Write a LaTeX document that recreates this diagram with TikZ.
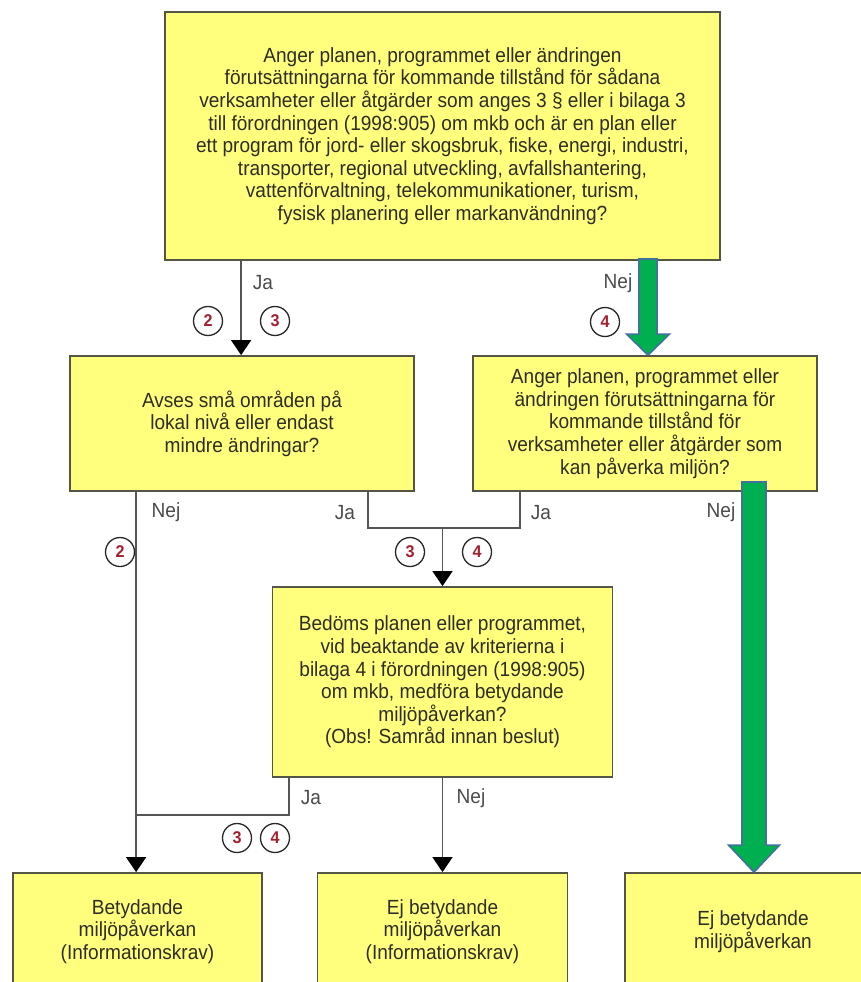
\documentclass[tikz,border=0pt]{standalone}
\usepackage{fontspec}
\setmainfont{Liberation Sans}[FakeStretch=0.93]
\newfontfamily\numfont{Liberation Sans}[FakeStretch=0.95]
\usetikzlibrary{arrows.meta,calc}
\definecolor{boxfill}{RGB}{255,255,125}
\definecolor{boxline}{RGB}{85,85,70}
\definecolor{conncol}{RGB}{85,85,85}
\definecolor{txtcol}{RGB}{45,45,35}
\definecolor{lblcol}{RGB}{75,75,75}
\definecolor{numcol}{RGB}{165,30,45}
\definecolor{gfill}{RGB}{0,176,80}
\definecolor{gline}{RGB}{65,113,156}
\begin{document}
\begin{tikzpicture}[x=1pt,y=-1pt,
  box/.style={draw=boxline, fill=boxfill, line width=1.8pt, align=center, inner sep=0pt,
    text=txtcol, font={\fontsize{20.5}{22.6}\selectfont}},
  conn/.style={draw=conncol, line width=1.5pt},
  arr/.style={conn, -{Triangle[width=20pt,length=15pt]}, arrows={[color=black]}},
  lbl/.style={text=lblcol, font={\fontsize{20.5}{22}\selectfont}, inner sep=0pt},
  numc/.style={circle, draw=black!85, line width=1.3pt, minimum size=29pt, inner sep=0pt,
    text=numcol, font={\numfont\bfseries\fontsize{17}{17}\selectfont}},
  garrow/.style={fill=gfill, draw=gline, line width=1.6pt, line join=miter}
]
\clip (0,0) rectangle (861,982);
\fill[white] (0,0) rectangle (861,982);

% boxes
\node[box, minimum width=555pt, minimum height=248pt] (top) at (442.5,136)
 {Anger planen, programmet eller ändringen\\
  förutsättningarna för kommande tillstånd för sådana\\
  verksamheter eller åtgärder som anges 3 § eller i bilaga 3\\
  till förordningen (1998:905) om mkb och är en plan eller\\
  ett program för jord- eller skogsbruk, fiske, energi, industri,\\
  transporter, regional utveckling, avfallshantering,\\
  vattenförvaltning, telekommunikationer, turism,\\
  fysisk planering eller markanvändning?};
\node[box, minimum width=344pt, minimum height=135pt] (b2) at (242,423.5)
 {Avses små områden på\\ lokal nivå eller endast\\ mindre ändringar?};
\node[box, minimum width=344pt, minimum height=135pt] (b3) at (645,423.5)
 {Anger planen, programmet eller\\ ändringen förutsättningarna för\\ kommande tillstånd för\\
  verksamheter eller åtgärder som\\ kan påverka miljön?};
\node[box, minimum width=340pt, minimum height=190pt] (b4) at (442.5,682)
 {Bedöms planen eller programmet,\\ vid beaktande av kriterierna i\\ bilaga 4 i förordningen (1998:905)\\
  om mkb, medföra betydande\\ miljöpåverkan?\\ (Obs! Samråd innan beslut)};
\node[box, minimum width=249pt, minimum height=117pt] (b5) at (137.5,931.5)
 {Betydande\\ miljöpåverkan\\ (Informationskrav)};
\node[box, minimum width=250pt, minimum height=117pt] (b6) at (442.5,931.5)
 {Ej betydande\\ miljöpåverkan\\ (Informationskrav)};
\node[box, minimum width=256pt, minimum height=117pt] (b7) at (753,931.5)
 {Ej betydande\\ miljöpåverkan};

% connectors
\draw[arr] ([xshift=77pt]top.south west) -- ([xshift=172pt]b2.north west);
\draw[arr] ([xshift=67pt]b2.south west) -- ([xshift=67pt]b2.south west |- b5.north);
\coordinate (j1) at (442.5,528);
\draw[conn] ([xshift=-47pt]b2.south east) |- (j1) -| ([xshift=48pt]b3.south west);
\draw[arr] (j1) -- (b4.north);
\coordinate (j2) at (137,815);
\draw[conn] ([xshift=17.5pt]b4.south west) |- (j2);
\draw[arr] (b4.south) -- (b6.north);

% green arrows
\coordinate (g1) at (648,259);
\draw[garrow] let \p1=(g1), \p2=(g1 |- b3.north) in
  (\x1-9pt,\y1) -- (\x1+9pt,\y1) -- (\x1+9pt,\y2+21pt) -- (\x1+21.5pt,\y2+21pt) --
  (\x1,\y2) -- (\x1-21.5pt,\y2+21pt) -- (\x1-9pt,\y2+21pt) -- cycle;
\coordinate (g2) at (754,482);
\draw[garrow] let \p1=(g2), \p2=(g2 |- b7.north) in
  (\x1-12pt,\y1) -- (\x1+12pt,\y1) -- (\x1+12pt,\y2+27pt) -- (\x1+25.5pt,\y2+27pt) --
  (\x1,\y2) -- (\x1-25.5pt,\y2+27pt) -- (\x1-12pt,\y2+27pt) -- cycle;

% labels
\node[lbl] (l1) at (263,283) {Ja};
\node[lbl] (l2) at (618,283) {Nej};
\node[lbl] (l3) at (166,512) {Nej};
\node[lbl] (l4) at (345,513) {Ja};
\node[lbl] (l5) at (541,513) {Ja};
\node[lbl] (l6) at (721,512) {Nej};
\node[lbl] (l7) at (311,798) {Ja};
\node[lbl] (l8) at (471,798) {Nej};

% numbered circles
\node[numc] (c1) at (208,321) {2};
\node[numc] (c2) at (275,321) {3};
\node[numc] (c3) at (605,322) {4};
\node[numc] (c4) at (120,552) {2};
\node[numc] (c5) at (410,552) {3};
\node[numc] (c6) at (477,552) {4};
\node[numc] (c7) at (237,838) {3};
\node[numc] (c8) at (275,838) {4};
\end{tikzpicture}
\end{document}
